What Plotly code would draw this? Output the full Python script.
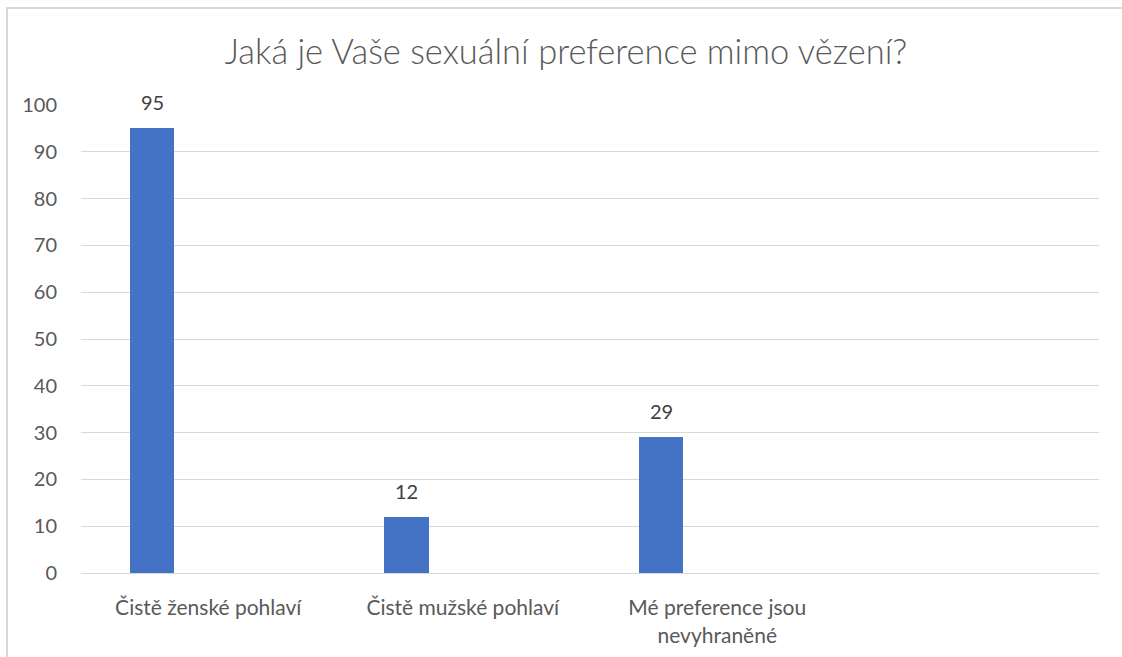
import plotly.graph_objects as go

categories = ["Čistě ženské pohlaví", "Čistě mužské pohlaví", "Mé preference jsou<br>nevyhraněné", ""]
values = [95, 12, 29, None]
y_ticks = [0, 10, 20, 30, 40, 50, 60, 70, 80, 90, 100]

W, H = 1122, 657
L, R, T, B = 81, 23, 105, 84
pw, ph = W - L - R, H - T - B

def px_x(p):
    return (p - L) / pw

def px_y(p):
    return (H - B - p) / ph

x_idx = list(range(len(categories)))
FONT = "Lato, Calibri, sans-serif"

fig = go.Figure()
fig.add_trace(go.Bar(
    x=x_idx,
    y=values,
    width=0.173,
    offset=-0.3075,
    marker=dict(color="#4472C4", line=dict(width=0)),
    showlegend=False,
    hoverinfo="x+y",
))

annotations = []
for xi, v in zip(x_idx, values):
    if v is None:
        continue
    annotations.append(dict(
        x=xi - 0.3075 + 0.173 / 2, y=v, xref="x", yref="y",
        text=str(v), showarrow=False, yanchor="bottom", yshift=12,
        font=dict(family=FONT, size=20, color="#404040"),
    ))

fig.update_layout(
    width=W, height=H,
    autosize=False,
    margin=dict(l=L, r=R, t=T, b=B, autoexpand=False),
    paper_bgcolor="white",
    plot_bgcolor="white",
    font=dict(family=FONT, color="#595959"),
    title=dict(
        text="Jaká je Vaše sexuální preference mimo vězení?",
        x=566 / W, xanchor="center",
        y=1 - 52 / H, yanchor="middle",
        font=dict(family=FONT, size=34.5, color="#595959", weight=300),
        automargin=False,
    ),
    bargap=0,
    xaxis=dict(
        range=[-0.5, len(categories) - 0.5],
        tickmode="array",
        tickvals=x_idx,
        ticktext=categories,
        tickfont=dict(family=FONT, size=21, color="#595959"),
        showgrid=False,
        zeroline=False,
        showline=False,
        ticks="outside",
        ticklen=16,
        tickcolor="rgba(0,0,0,0)",
        automargin=False,
    ),
    yaxis=dict(
        range=[0, 100],
        tickvals=y_ticks,
        tickfont=dict(family=FONT, size=20, color="#595959"),
        showgrid=True,
        gridcolor="#d9d9d9",
        gridwidth=1,
        zeroline=True,
        zerolinecolor="#d9d9d9",
        zerolinewidth=1,
        showline=False,
        ticks="outside",
        ticklen=19,
        tickcolor="rgba(0,0,0,0)",
        automargin=False,
    ),
    annotations=annotations,
    shapes=[
        dict(type="rect", xref="paper", yref="paper",
             x0=px_x(7), x1=px_x(1140), y0=px_y(680), y1=px_y(8),
             line=dict(color="#d9d9d9", width=2), fillcolor="rgba(0,0,0,0)",
             layer="below"),
    ],
)

fig.write_html(
    "out.html",
    config={"displayModeBar": False},
    post_script="document.body.style.margin='0';document.body.style.overflow='hidden';",
)
